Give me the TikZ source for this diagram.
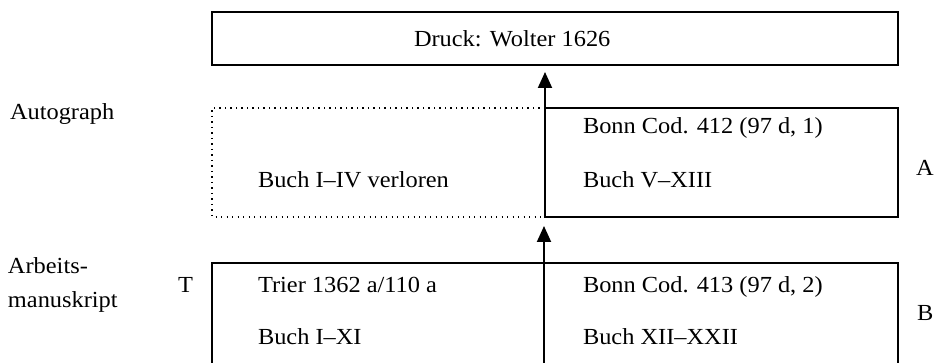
\documentclass[tikz,border=0pt]{standalone}
\usepackage{fontspec}
\setmainfont{Liberation Serif}[FakeStretch=1.06]
\usetikzlibrary{arrows.meta}
\begin{document}
\begin{tikzpicture}[x=1pt,y=-1pt,
  every node/.style={inner sep=0pt,outer sep=0pt},
  txt/.style={anchor=base west,font=\fontsize{23}{27}\selectfont},
  box/.style={draw,line width=1.8pt,rectangle},
  dotline/.style={line width=1.3pt,dash pattern=on 1.2pt off 4.3pt},
  frame/.style={line width=1.8pt},
  arr/.style={line width=1.9pt,-{Triangle[width=14pt,length=16pt]}}]
\useasboundingbox (0,0) rectangle (943,363);

% print
\node[box,minimum width=686pt,minimum height=53pt] (druck) at (555,38.5) {};
\node[txt] (druckt) at (414,47) {Druck: Wolter 1626};

% autograph row
\node[box,minimum width=353pt,minimum height=109pt] (auto) at (721.5,162.5) {};
\draw[dotline] (auto.north west) -- (212,108) -- (212,217) -- (auto.south west);
\node[txt] (autol) at (10,120) {Autograph};
\node[txt] (lost) at (258,188) {Buch I–IV verloren};
\node[txt] (bonna) at (583,134) {Bonn Cod. 412 (97 d, 1)};
\node[txt] (bucha) at (583,188) {Buch V–XIII};
\node[txt] (siga) at (916,176) {A};

% working manuscript row
\coordinate (wl) at (212,363);
\coordinate (wr) at (898,363);
\coordinate (wm) at (544,363);
\draw[frame] (wl) |- (898,263) -- (wr);
\node[txt] (arb1) at (8,274) {Arbeits-};
\node[txt] (arb2) at (8,308) {manuskript};
\node[txt] (sigt) at (178,293) {T};
\node[txt] (trier) at (258,293) {Trier 1362 a/110 a};
\node[txt] (buchb) at (258,345) {Buch I–XI};
\node[txt] (bonnb) at (583,293) {Bonn Cod. 413 (97 d, 2)};
\node[txt] (buchc) at (583,345) {Buch XII–XXII};
\node[txt] (sigb) at (917,321) {B};

% descent arrows
\draw[arr,shorten >=9pt] (wm) -- (wm |- auto.south);
\draw[arr,shorten >=7pt] (auto.north west) -- (auto.north west |- druck.south);
\end{tikzpicture}
\end{document}
